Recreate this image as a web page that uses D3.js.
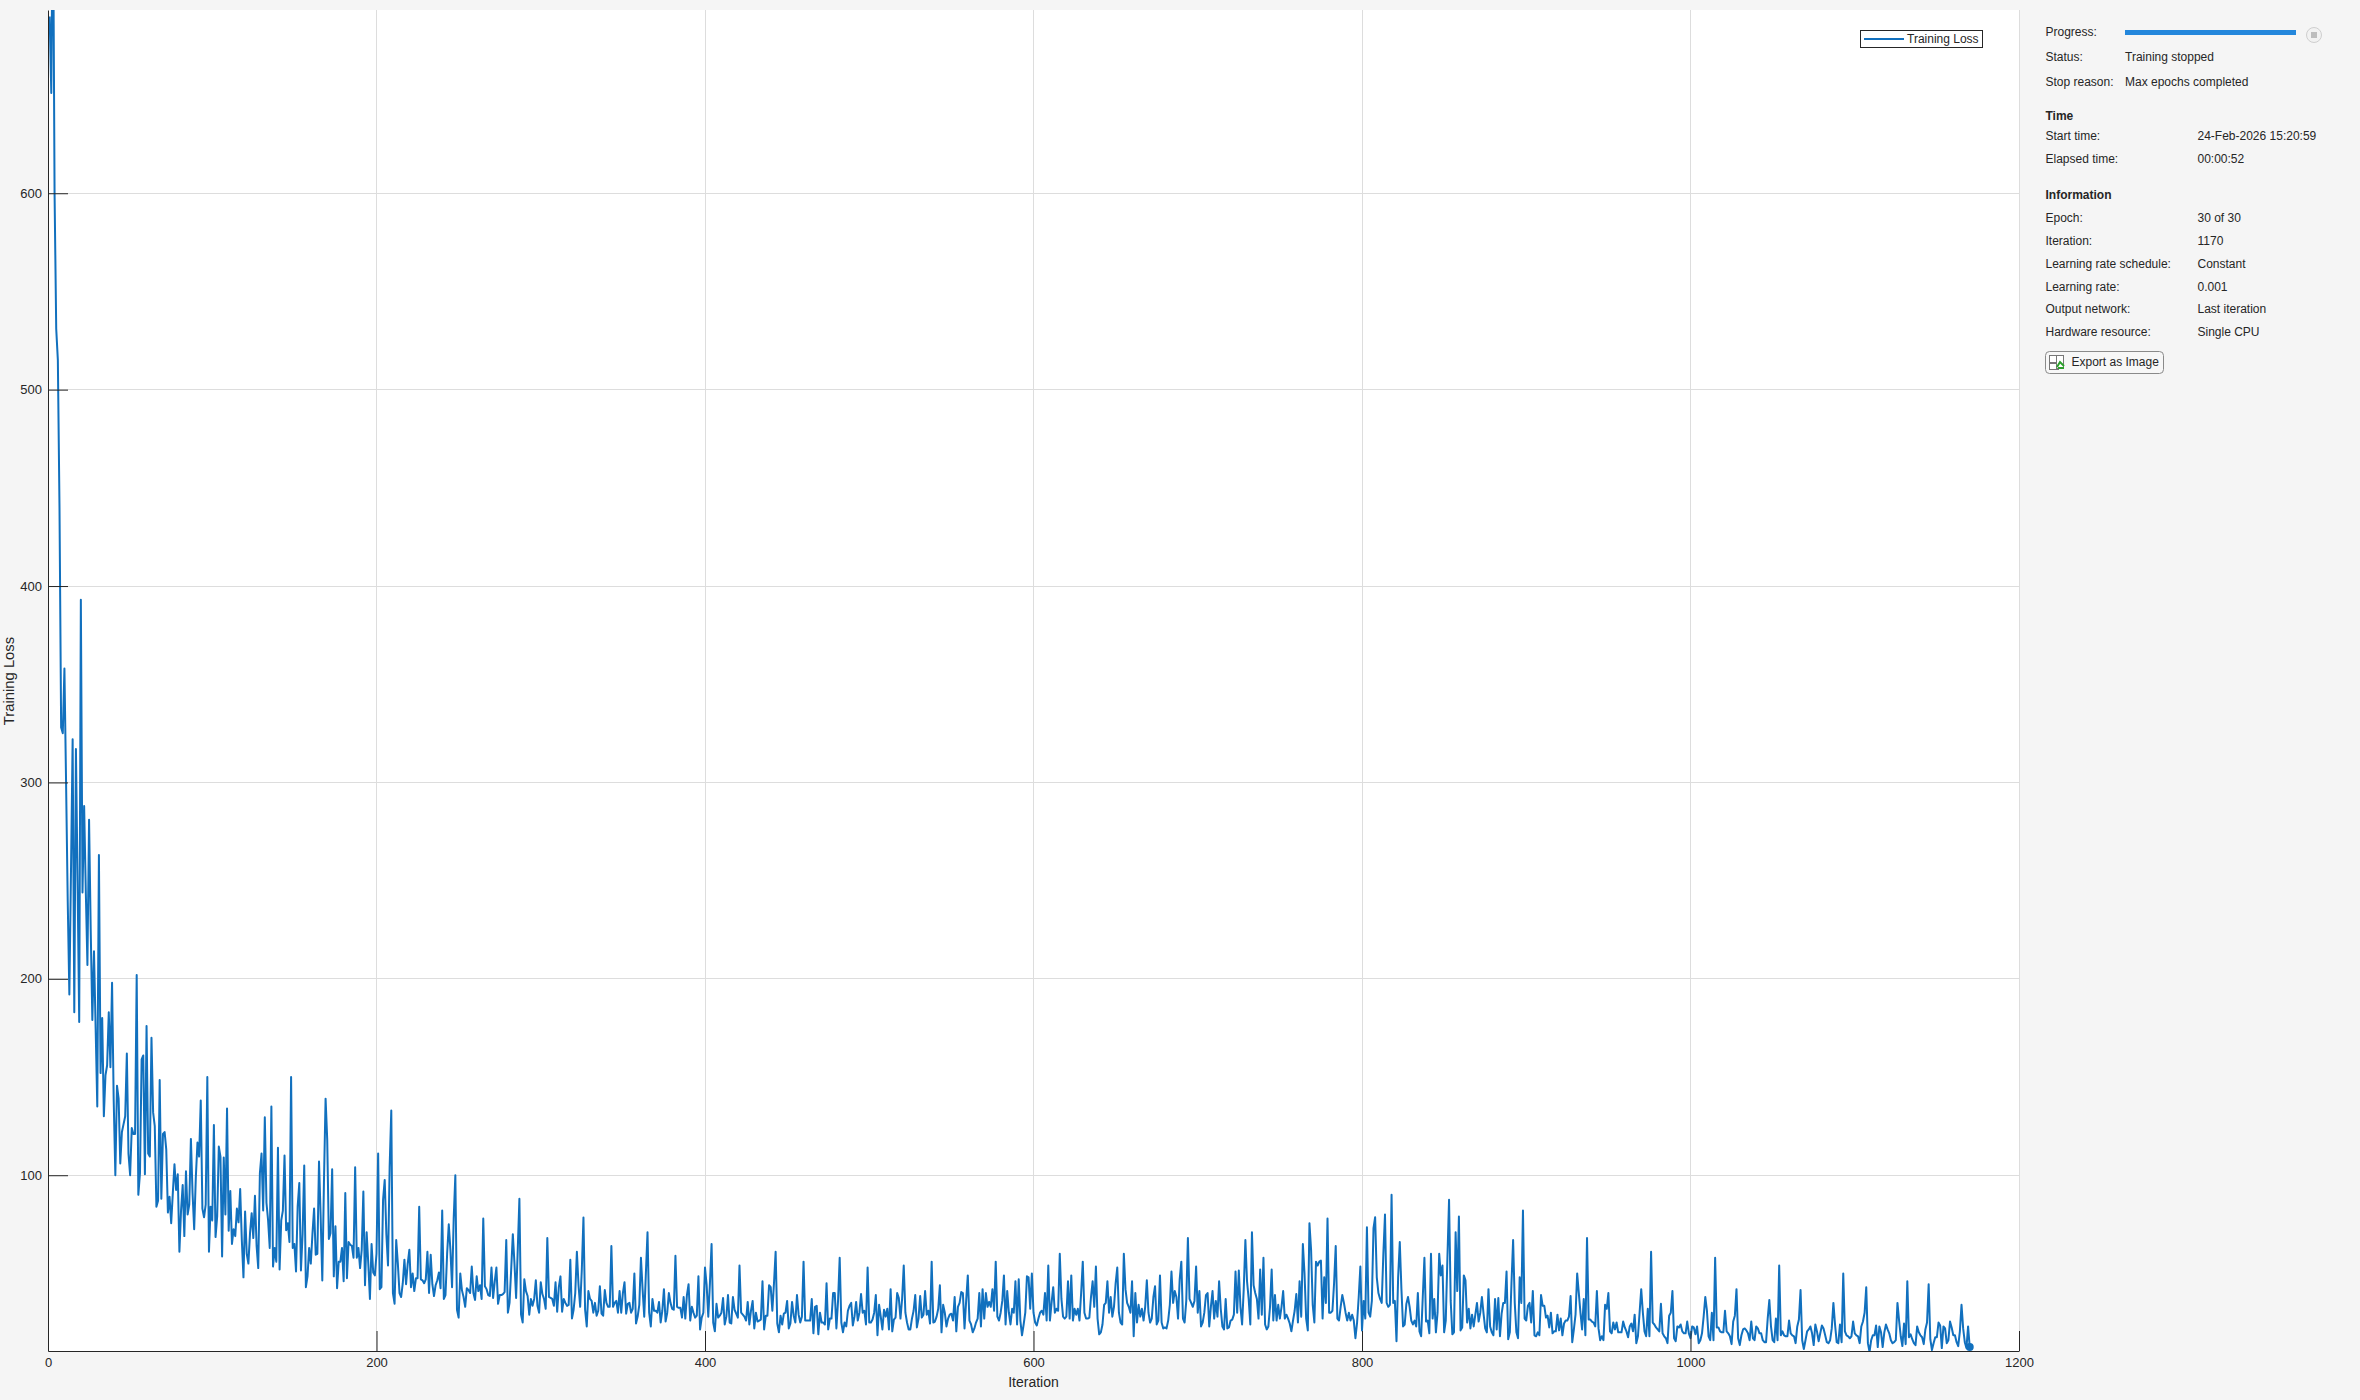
<!DOCTYPE html>
<html><head><meta charset="utf-8">
<style>html,body{margin:0;padding:0;background:#f5f5f5}svg{display:block}text{font-family:"Liberation Sans",Arial,sans-serif;fill:#262626}</style>
<script src="https://cdn.jsdelivr.net/npm/d3@7"></script>
</head><body><svg id="c" width="2360" height="1400"></svg>
<script>
const epoch01=[690,651,760,600,531,515,440,328,325,358,300,240,192,255,322,183,317,250,178,393,244,288,245,207,281,225,179,214,175,135,263,152,180,130,151,156,183,155,198];
const epoch02=[138,100,145.6,139,106,122,126,130,162,111,100,124,121,121,202,90,101,159,161,100.5,176,111,109.5,170,132,125,84,87,148.5,88,121,122,113,81,89,75.6,91,105.6,92.5];
const epoch03=[100.5,61,82,95,69,102,80,85,118.5,91,72.5,99,116.6,109.5,138,83,78.6,85,150,61,84,77,125.6,68.5,79,114.6,109.5,58.6,109,80,134,71.7,92,65,72.5,69,83,76,93];
const epoch04=[67,48,81.5,60,55,70.5,80.7,68,89.5,64,52.7,101,111,82,129.5,86,77,63,135,53.5,63,56,114,52,77,82,110,72,75.6,66,150,63,65,51,84,96,51.5,70,105];
const epoch05=[43,48.5,63,55,70,83,59.5,60,107,79,46.4,96,139,118,67.5,70.5,103,48.5,74,42.5,56,56,63,46,91,47.6,66,64.6,64,58,104,58,63,52.7,62,91.7,44,71,55];
const epoch06=[37,65,50.5,49,60,111,42,43,87.5,97.6,70,54,104,133,40,34.6,67,55,40,38,45,57,44.5,55,62,43,50,41,47.5,47.5,84,47,46.5,45,47,61,40,59.5,44.5];
const epoch07=[38.5,44,46.5,50.5,42.5,82,37,39,60,75,62,43,78,100,31.5,27.5,50,41.5,38,33,42.5,41.5,40,53.5,40,36.5,48.5,41,44,37,78,43.5,42,39,38.5,53,37.5,46,53];
const epoch08=[34.5,39,39,39.5,40.5,67,30,35,52,70,55,37.5,62,88,29,25,47,41,38.5,29,37,33.5,37,46.5,33.5,30,45.5,39.5,37,32,68,38,37.5,37,33.5,45.5,30.5,43,48.5];
const epoch09=[30.5,37,35,33.5,34,57,27,31.5,40,61,44,33,52,78.5,31.5,23,41,37,36,30,35,28.5,31,43.5,29.5,28.5,41.5,35,33,33,64,33,35,36,30,41,30,40,45.5];
const epoch10=[29.5,34.5,35,30,32,50,24.5,28,34,58,42,28,50,71,30,23,37,31,31,30,35.5,25,31,42,25.5,30,40,35,32,31.5,59,33,32.5,32.5,27.5,38,27,39,44.5];
const epoch11=[26,33,30,27.5,28.5,48.5,21.5,27.5,30,53,44,28,45,65,25,20.5,34.5,27.5,28.5,30,37.5,24,28,39,25,24.5,38,31.5,29.5,27.5,54,30,29,28,26,35.5,24,31,36];
const epoch12=[22,30,25.5,26,26.5,46,21.5,28.5,28.5,44,43,31,45,61,24.5,20,28.5,24,29.5,30,36,22,24.5,35.5,28.5,25,39,29,25,28,56,26,26,26,26,37,19.5,33,33.5];
const epoch13=[19,30,25,25,24,45,21.5,27,27,40,40,22,36,58,25,20,25,23,31,33.5,35,23.5,28,35.5,26,30,39.5,30,31,24,53,25,25,26.5,30,39,18.5,34,28];
const epoch14=[21.5,31.5,28,32,21.5,42,20.5,26.5,27.5,40,37.5,27,37,54,30,25,21.5,21.5,27,31,39,22.5,27,38.5,27.5,29,41,29,31,24.5,56,25,25.5,28,32,44,20,34,30];
const epoch15=[23,27,29,29.5,26,38,20.5,33,35,40.5,40,22,36,49,26,24,20,22,25,27,40,23,42,27,40,33,35.5,33,42,31,56,28,26,30,36,49,24,41,30];
const epoch16=[24,32,30,46,24,47,26,18.5,24,30,48.5,48,32,50,30,25,23.5,27,30,31,29,40,26,54,26,35,43,30,32,31,60,37,28,27,28,46,27,49,26];
const epoch17=[32,29,32,26,40,56,30,27,27,27.5,38,46,33,53.5,27,19,20,24,34,35,46,30,38,28,33,45,53,30,25,24,60,42,35,33,30,46,18,40,25];
const epoch18=[34,28,32,26,33,46.5,30,25,27,38,43.5,24,26,49,25,22,22.5,22,26,34,51,35,41,38,27,47,56,27,25,36,68,37,35,33,36,53.5,30,41,23];
const epoch19=[25,30,39,40,23,33,41,27,36,28,46,32,23,21.5,37,22,22.5,26,26.5,29,51,30,51.5,33,24,42,67,46,37,24,71,44,40,37,27,52,29,58,24];
const epoch20=[21.5,23,33,52,26,39,26,34,27,33,41,27,29,27,24.5,20.5,26,31,39.5,25,46,28,65,50,27,21,75.6,62,34,25,56,54,56,56.5,27,48,35,78,30];
const epoch21=[30,31,45,64,27,26,33,39,35,30,26,30,26,29,26,17,25,38,53.5,21,36,27,73.5,30,28,36,73,78.6,48,40,37,35,60,80,35,33,34,90,35];
const epoch22=[36,15.5,48,66,42,23,24,34.5,38,33,26,24,26,23,40,20.5,18,38,58,25.5,26,19.5,60,27,37,20,30,60,49,54,20,26,58,87.5,36,19,20,71,41];
const epoch23=[79,21,22.5,49,46.5,25,32,22,29,23,29,35,25.5,30,38,29.5,22,20,42,23,20,18.5,37,21.5,37.5,18,29.5,35,35,51,16.5,20,45,67,35,20,17,48,35];
const epoch24=[82,27,26,33.5,35,25,41,18.5,18,20,18.5,39,33.5,33.5,27.5,28.5,22.5,30,19.5,20.5,20.5,29,21,27,18.5,24.5,26,26,28,38.5,15,21.5,29,50,40,30,21.5,37,18.5];
const epoch25=[68,26.5,26.5,25.5,25,23,41,22,16,18,16,34,32,40,20.5,19.5,25,21.5,25,20,20,20,25.5,22.5,20.5,17.5,23,24.5,20.5,29,14.5,18,30,42,30,20.5,18,32,18];
const epoch26=[61,25,24,22.5,21.5,20.5,34.5,19.5,18,17,14.5,28.5,30,41,17,15.5,23,22.5,24,20.5,19.5,19.5,25.5,19.5,17,23,22.5,19,23,14.5,16,19.5,28,38,31,18,16,30,16];
const epoch27=[58,22.5,22.5,20.5,20,20,31,20.5,19.5,18,14,25.5,28.5,42,17,13.5,18.5,21.5,22,21,19.5,16,25.5,17,16,23,22,19.5,19.5,16,15,15,27,36.5,23,16,15,27,16];
const epoch28=[54,18.5,20.5,18.5,18,18,26,19.5,18.5,18,14.5,23,26.5,41.5,16,11.5,16,20.5,21.5,23,19.5,13.5,24,20.5,15.5,19.5,23.5,22,18.5,15,14.5,16,22,35,24,15,14.5,24,15];
const epoch29=[50,20.5,18.5,18,17,18,25.5,19.5,18.5,18,14.5,23,25.5,30,43,14.5,10,16,18.5,18.5,23.5,12.5,23,20,12.5,20,24,21.5,19.5,16,14.5,15,16,35,26,18,13,24.5,14];
const epoch30=[46,17.5,19,16.5,14.5,13.5,23,20,18.5,17.5,14,21.5,25,44.5,16.5,11,14.5,17.5,17.5,25,23.5,12,23,22,14.5,16,25.5,22.5,18.5,18.5,15,13,20.5,34,22,15,12,23,12.5];
const epochs=[epoch01,epoch02,epoch03,epoch04,epoch05,epoch06,epoch07,epoch08,epoch09,epoch10,epoch11,epoch12,epoch13,epoch14,epoch15,epoch16,epoch17,epoch18,epoch19,epoch20,epoch21,epoch22,epoch23,epoch24,epoch25,epoch26,epoch27,epoch28,epoch29,epoch30];
const xTicks=[0,200,400,600,800,1000,1200];
const yTicks=[100,200,300,400,500,600];
const xDomain=[0,1200], yDomain=[10.5,693.3];
const xLabel="Iteration", yLabel="Training Loss", legendLabel="Training Loss";
const statusRows=[["Progress:",""],["Status:","Training stopped"],["Stop reason:","Max epochs completed"]];
const timeRows=[["Start time:","24-Feb-2026 15:20:59"],["Elapsed time:","00:00:52"]];
const infoRows=[["Epoch:","30 of 30"],["Iteration:","1170"],["Learning rate schedule:","Constant"],["Learning rate:","0.001"],["Output network:","Last iteration"],["Hardware resource:","Single CPU"]];

const L=48,R=2019,T=10,B=1351;
const blue="#1170be", ink="#262626", gridC="#dddddd";
const svg=d3.select("#c");
const x=d3.scaleLinear().domain(xDomain).range([L,R]);
const y=d3.scaleLinear().domain(yDomain).range([B,T]);
const series=epochs.flatMap((vals,e)=>vals.map((v,j)=>({i:e*39+j+1,v})));
const snap=p=>Math.floor(p)+0.5;

svg.append("rect").attr("x",L).attr("y",T).attr("width",R-L+1).attr("height",B-T).attr("fill","#fff");
svg.append("defs").append("clipPath").attr("id","clip").append("rect").attr("x",L).attr("y",T).attr("width",R-L+1).attr("height",B-T+1);

const grid=svg.append("g").attr("stroke",gridC).attr("stroke-width",1);
grid.selectAll(".v").data(xTicks.slice(1)).join("line").attr("x1",d=>snap(x(d))).attr("x2",d=>snap(x(d))).attr("y1",T).attr("y2",B);
grid.selectAll(".h").data(yTicks).join("line").attr("x1",L).attr("x2",R).attr("y1",d=>snap(y(d))).attr("y2",d=>snap(y(d)));

function styleAxis(g){
  g.selectAll("path,line").attr("stroke",ink).attr("stroke-width",1);
  g.selectAll("text").attr("fill",ink).style("font-size","13px").style("font-family",'"Liberation Sans",Arial,sans-serif');
}
const line=d3.line().x(d=>x(d.i)).y(d=>y(d.v));
const plot=svg.append("g").attr("clip-path","url(#clip)");
plot.append("path").datum(series).attr("fill","none").attr("stroke",blue).attr("stroke-width",2).attr("stroke-linejoin","round").attr("d",line);
const last=series[series.length-1];
svg.append("circle").attr("cx",x(last.i)).attr("cy",y(last.v)).attr("r",4).attr("fill",blue);

const xAxis=d3.axisBottom(x).tickValues(xTicks).tickFormat(d3.format("d")).tickSizeInner(-20).tickSizeOuter(0).tickPadding(7);
const yAxis=d3.axisLeft(y).tickValues(yTicks).tickFormat(d3.format("d")).tickSizeInner(-20).tickSizeOuter(0).tickPadding(6);
svg.append("g").attr("transform",`translate(0,${B})`).call(xAxis).call(styleAxis);
svg.append("g").attr("transform",`translate(${L},0)`).call(yAxis).call(styleAxis);

svg.append("text").attr("x",x(600)).attr("y",1386.5).attr("text-anchor","middle").style("font-size","14px").text(xLabel);
svg.append("text").attr("transform",`translate(14,681) rotate(-90)`).attr("text-anchor","middle").style("font-size","14.8px").text(yLabel);

const leg=svg.append("g");
leg.append("rect").attr("x",1860.5).attr("y",30.5).attr("width",122).attr("height",17).attr("fill","#fff").attr("stroke",ink).attr("stroke-width",1);
leg.append("line").attr("x1",1864).attr("x2",1904).attr("y1",39).attr("y2",39).attr("stroke",blue).attr("stroke-width",2);
leg.append("text").attr("x",1907).attr("y",43).style("font-size","12px").text(legendLabel);

const P=svg.append("g").style("font-size","12px");
const col0=2045.5,col1=2125,col2=2197.5;
function row(r,cy,cx){
  P.append("text").attr("x",col0).attr("y",cy+4).text(r[0]);
  if(r[1]) P.append("text").attr("x",cx).attr("y",cy+4).text(r[1]);
}
[31.7,56.7,81.7].forEach((cy,k)=>row(statusRows[k],cy,col1));
P.append("text").attr("x",col0).attr("y",119.7).attr("font-weight","bold").text("Time");
[135.7,158.7].forEach((cy,k)=>row(timeRows[k],cy,col2));
P.append("text").attr("x",col0).attr("y",198.7).attr("font-weight","bold").text("Information");
[217.7,240.7,263.7,286.7,308.7,331.7].forEach((cy,k)=>row(infoRows[k],cy,col2));

P.append("rect").attr("x",2125).attr("y",30).attr("width",171).attr("height",5).attr("fill","#2487dc");
P.append("circle").attr("cx",2314).attr("cy",35).attr("r",7.5).attr("fill","#f2f2f2").attr("stroke","#cfcfcf").attr("stroke-width",1);
P.append("rect").attr("x",2311).attr("y",32).attr("width",6).attr("height",6).attr("fill","#bdbdbd");

P.append("rect").attr("x",2045.5).attr("y",351.5).attr("width",118).attr("height",22).attr("rx",4).attr("fill","#f7f7f7").attr("stroke","#8a8a8a");
P.append("rect").attr("x",2049.5).attr("y",355.5).attr("width",9).attr("height",7).attr("fill","#fff").attr("stroke","#777");
P.append("rect").attr("x",2049.5).attr("y",363.5).attr("width",9).attr("height",6).attr("fill","#fff").attr("stroke","#777");
P.append("rect").attr("x",2056.5).attr("y",355.5).attr("width",7).attr("height",13).attr("fill","#fff").attr("stroke","#777");
P.append("path").attr("d","M2057 367 L2060 362 L2064 366 M2058 368 h6").attr("fill","none").attr("stroke","#2ca02c").attr("stroke-width",2);
P.append("text").attr("x",2071.5).attr("y",365.5).text("Export as Image");
</script></body></html>
